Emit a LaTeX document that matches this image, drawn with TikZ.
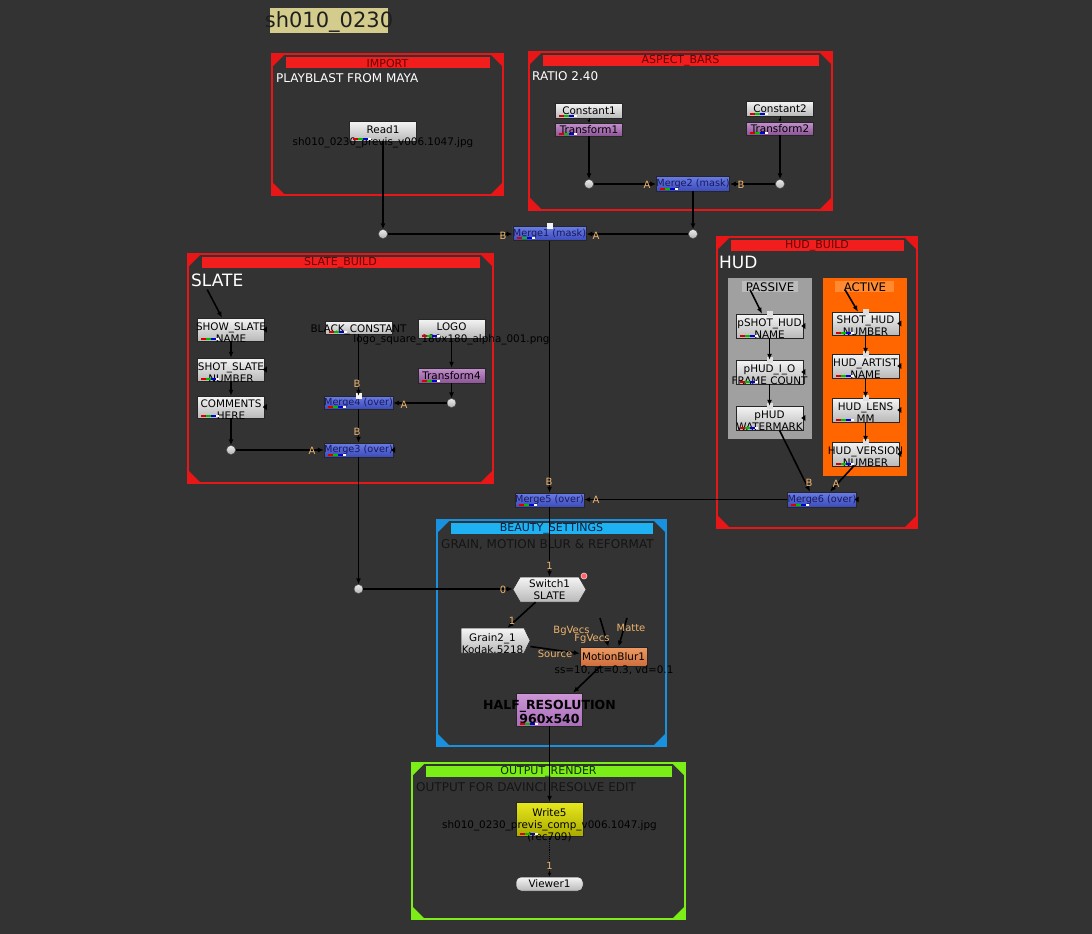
\documentclass[tikz,border=0pt]{standalone}
\usepackage{fontspec}
\setmainfont{DejaVu Sans}
\usetikzlibrary{arrows.meta,shapes.symbols,calc}
\definecolor{bgc}{RGB}{51,51,51}
\definecolor{bdred}{RGB}{232,22,22}
\definecolor{barred}{RGB}{242,30,30}
\definecolor{txred}{RGB}{105,0,0}
\definecolor{bdblue}{RGB}{25,145,225}
\definecolor{barblue}{RGB}{30,178,242}
\definecolor{txblue}{RGB}{10,30,60}
\definecolor{bdgreen}{RGB}{122,238,22}
\definecolor{txgreen}{RGB}{20,45,0}
\definecolor{sticky}{RGB}{212,204,140}
\definecolor{passive}{RGB}{160,160,160}
\definecolor{passivelab}{RGB}{188,188,188}
\definecolor{active}{RGB}{255,102,0}
\definecolor{activelab}{RGB}{255,138,50}
\definecolor{mergetop}{RGB}{105,125,230}
\definecolor{mergebot}{RGB}{60,75,185}
\definecolor{mergetx}{RGB}{25,25,90}
\definecolor{trtop}{RGB}{195,145,205}
\definecolor{trbot}{RGB}{140,85,150}
\definecolor{inlab}{RGB}{238,180,110}
\definecolor{mbtop}{RGB}{238,155,100}
\definecolor{mbbot}{RGB}{205,110,60}
\definecolor{wrtop}{RGB}{232,232,30}
\definecolor{wrbot}{RGB}{170,170,0}
\definecolor{hrtop}{RGB}{205,150,215}
\definecolor{hrbot}{RGB}{170,110,185}
\newcommand\nodef{\fontsize{10.4}{12}\selectfont}
\newcommand\mergef{\fontsize{9.7}{11}\selectfont}
\newcommand\inlf{\fontsize{10}{11}\selectfont}
\newcommand\btf{\fontsize{11}{12}\selectfont}
\newcommand\pasf{\fontsize{11.8}{12}\selectfont}
\newcommand\bdlf{\fontsize{12}{13}\selectfont}
\newcommand\bigf{\fontsize{17}{18}\selectfont}
\newcommand\stf{\fontsize{21}{22}\selectfont}
\newcommand\hrf{\fontsize{12.5}{14}\selectfont\bfseries}
% backdrop: x0 y0 x1 y1 border bar title name titlecolor
\newcommand\bdrop[9]{%
 \draw[#5, line width=2.5pt] (#1,#2) rectangle (#3,#4);
 \fill[#5] (#1,#2) -- ({#1+13},#2) -- (#1,{#2+13}) -- cycle;
 \fill[#5] (#3,#2) -- ({#3-13},#2) -- (#3,{#2+13}) -- cycle;
 \fill[#5] (#1,#4) -- ({#1+13},#4) -- (#1,{#4-13}) -- cycle;
 \fill[#5] (#3,#4) -- ({#3-13},#4) -- (#3,{#4-13}) -- cycle;
 \fill[#6] ({#1+14},{#2+3}) rectangle ({#3-13},{#2+14});
 \node[font=\btf, text=#9, inner sep=0pt] (#8) at ({(#1+#3)/2},{#2+9}) {#7};
}
\newcommand\chmark[1]{%
 \draw[line width=2pt, red!85!black] ($(#1.south west)+(4,-2.5)$) -- ++(5,0);
 \draw[line width=2pt, green!75!black] ($(#1.south west)+(9,-2.5)$) -- ++(5,0);
 \draw[line width=2pt, blue!85!black] ($(#1.south west)+(14,-2.5)$) -- ++(5,0);
 \draw[line width=2pt, white] ($(#1.south west)+(19,-2.5)$) -- ++(3,0);
}
\newcommand\trimark[1]{%
 \fill[black] ($(#1.east)+(2,-3)$) -- ($(#1.east)+(-2,0)$) -- ($(#1.east)+(2,3)$) -- cycle;
}
\newcommand\topsq[2]{%
 \fill[#2] ($(#1.north)+(-3,3)$) rectangle ($(#1.north)+(3,-3)$);
}
\begin{document}
\begin{tikzpicture}[x=1pt,y=-1pt,
 wire/.style={line width=1.6pt, draw=black, -{Latex[length=6pt,width=5pt]}},
 swire/.style={line width=1pt, draw=black, -{Latex[length=3pt,width=3.5pt]}},
 gn/.style={draw=black!85, line width=0.5pt, top color=gray!8, bottom color=gray!55,
   minimum width=67pt, minimum height=15pt, inner sep=0pt, font=\nodef, text=black, align=center},
 mg/.style={gn, top color=mergetop, bottom color=mergebot, text=mergetx, font=\mergef},
 tr/.style={gn, top color=trtop, bottom color=trbot},
 dotn/.style={circle, draw=black!70, line width=0.4pt, inner sep=0pt, minimum size=9pt,
   top color=gray!15, bottom color=gray!60},
 bt/.style={font=\nodef, inner sep=0pt, align=center, text=black},
 tl/.style 2 args={label={[bt, yshift=#1pt]center:{#2}}},
 inl/.style={font=\inlf, text=inlab, inner sep=0pt},
 bdl/.style={font=\bdlf, text=white, anchor=west, inner sep=0pt},
 sublab/.style={font=\pasf, inner sep=0pt, text=black}]
\useasboundingbox (0,0) rectangle (1092,934);
\fill[bgc] (0,0) rectangle (1092,934);

% sticky note
\fill[sticky] (270,8) rectangle (388,33);
\node[font=\stf, inner sep=0pt, text=black!88] (title) at (329,22) {sh010\_0230};

% backdrops
\bdrop{272}{54}{503}{195}{bdred}{barred}{IMPORT}{tImp}{txred}
\bdrop{529}{52}{832}{210}{bdred}{barred}{ASPECT\_BARS}{tAsp}{txred}
\bdrop{188}{254}{493}{483}{bdred}{barred}{SLATE\_BUILD}{tSl}{txred}
\bdrop{717}{237}{917}{528}{bdred}{barred}{HUD\_BUILD}{tHud}{txred}
\bdrop{437}{520}{666}{746}{bdblue}{barblue}{BEAUTY\_SETTINGS}{tBeau}{txblue}
\bdrop{412}{763}{685}{919}{bdgreen}{bdgreen}{OUTPUT\_RENDER}{tOut}{txgreen}

\node[bdl] (lImp) at (276,78) {PLAYBLAST FROM MAYA};
\node[bdl] (lAsp) at (532,76) {RATIO 2.40};
\node[bdl, font=\bigf] (lSl) at (191,280) {SLATE};
\node[bdl, font=\bigf] (lHud) at (719,262) {HUD};
\node[bdl, text=black!92] (lBeau) at (441,545) {GRAIN, MOTION BLUR \& REFORMAT};
\node[bdl, text=black!92] (lOut) at (416,787) {OUTPUT FOR DAVINCI RESOLVE EDIT};

% passive / active
\fill[passive] (728,278) rectangle (812,439);
\fill[passivelab] (742,281) rectangle (798,292);
\node[sublab] (lPas) at (770,287) {PASSIVE};
\fill[active] (823,278) rectangle (907,476);
\fill[activelab] (835,281) rectangle (894,292);
\node[sublab] (lAct) at (865,287) {ACTIVE};

% IMPORT / ASPECT
\node[gn, minimum height=20pt, tl={-5.5}{Read1\\sh010\_0230\_previs\_v006.1047.jpg}] (read1) at (383,131) {};
\node[gn] (const1) at (589,110.5) {Constant1};
\node[tr, minimum height=13pt] (tr1) at (589,129.5) {Transform1};
\node[gn] (const2) at (780,108.5) {Constant2};
\node[tr, minimum height=13pt] (tr2) at (780,128.5) {Transform2};
\node[dotn] (d1) at (589,184) {};
\node[dotn] (d2) at (780,184) {};
\node[mg] (merge2) at (693,183.5) {Merge2 (mask)};
\node[dotn] (d3) at (383,234) {};
\node[dotn] (d4) at (693,234) {};
\node[mg, minimum height=14pt] (merge1) at (549.5,233.5) {Merge1 (mask)};

% SLATE
\node[gn, minimum height=23pt, tl={-3.5}{SHOW\_SLATE\\NAME}] (showsl) at (231,329.5) {};
\node[gn, minimum height=23pt, tl={-3.5}{SHOT\_SLATE\\NUMBER}] (shotsl) at (231,369.5) {};
\node[gn, minimum height=22pt, tl={-3}{COMMENTS\\HERE}] (comm) at (231,407) {};
\node[dotn] (d5) at (231,450) {};
\node[gn, minimum height=13pt, tl={-2.5}{BLACK\_CONSTANT}] (blk) at (358.5,327.5) {};
\node[gn, minimum height=19pt, tl={-5.5}{LOGO\\logo\_square\_180x180\_alpha\_001.png}] (logo) at (451.5,328.5) {};
\node[tr] (tr4) at (451.5,375.5) {Transform4};
\node[dotn] (d6) at (451.5,403) {};
\node[mg, minimum height=13pt] (merge4) at (358.5,402.5) {Merge4 (over)};
\node[mg, minimum height=14pt] (merge3) at (358.5,450) {Merge3 (over)};
\node[dotn] (d7) at (358.5,589) {};

% HUD
\node[gn, minimum height=24pt, tl={-2.5}{pSHOT\_HUD\\NAME}] (psh) at (769.5,326) {};
\node[gn, minimum height=24pt, tl={-2.5}{pHUD\_I\_O\\FRAME COUNT}] (pio) at (769.5,372) {};
\node[gn, minimum height=24pt, tl={-2.5}{pHUD\\WATERMARK}] (pwm) at (769.5,418) {};
\node[gn, minimum height=23pt, tl={-2.5}{SHOT\_HUD\\NUMBER}] (shud) at (865.5,323.5) {};
\node[gn, minimum height=24pt, tl={-2.5}{HUD\_ARTIST\\NAME}] (hart) at (865.5,366) {};
\node[gn, minimum height=24pt, tl={-2.5}{HUD\_LENS\\MM}] (hlens) at (865.5,410) {};
\node[gn, minimum height=24pt, tl={-2.5}{HUD\_VERSION\\NUMBER}] (hver) at (865.5,454) {};
\node[mg] (merge6) at (822,499.5) {Merge6 (over)};
\node[mg, minimum height=14pt] (merge5) at (549.5,500) {Merge5 (over)};

% BEAUTY
\node[gn, shape=signal, signal to=west and east, signal pointer angle=120,
  minimum width=73pt, minimum height=25pt, tl={-0.5}{Switch1\\SLATE}] (switch1) at (549.5,589.5) {};
\node[gn, shape=signal, signal to=east, signal pointer angle=128,
  minimum width=69pt, minimum height=25pt, tl={-3}{Grain2\_1\\Kodak.5218}] (grain) at (492.5,640.5) {};
\node[gn, top color=mbtop, bottom color=mbbot, minimum height=19pt] (mb) at (613.5,656.5) {MotionBlur1};
\node[bt] (mbsub) at (614,670) {ss=10, st=0.3, vd=0.1};
\node[gn, top color=hrtop, bottom color=hrbot, minimum width=66pt, minimum height=33pt] (half) at (549.5,709.5) {};
\node[bt, font=\hrf] (halft) at (549.5,712) {HALF\_RESOLUTION\\960x540};

% OUTPUT
\node[gn, top color=wrtop, bottom color=wrbot, minimum height=34pt] (write5) at (549.5,819) {};
\node[bt] (write5t) at (549.5,825) {Write5\\sh010\_0230\_previs\_comp\_v006.1047.jpg\\(rec709)};
\node[gn, rounded corners=5pt, minimum height=14pt] (viewer1) at (549.5,884) {Viewer1};

\coordinate (cBg) at (600,618);
\coordinate (cMt) at (627,618);

% channel markers & small marks
\foreach \n in {read1,const1,tr1,const2,tr2,merge2,merge1,showsl,shotsl,comm,blk,logo,tr4,merge4,merge3,psh,pio,pwm,shud,hart,hlens,hver,merge6,merge5,half,write5}{\chmark{\n}}
\foreach \n in {showsl,shotsl,comm,psh,pio,pwm,shud,hart,hlens,hver,merge3,merge6}{\trimark{\n}}
\topsq{merge1}{white!90!gray}
\topsq{merge4}{white!90!gray}
\foreach \n in {psh,pio,pwm,shud,hart,hlens,hver}{\topsq{\n}{gray!25}}
\fill[red!60!white, draw=white!80!red, line width=0.6pt] (584,576) circle (3pt);

% wires
\draw[swire] (const1) -- (tr1);
\draw[swire] (const2) -- (tr2);
\draw[wire] (tr1) -- (d1);
\draw[wire] (d1) -- (d1 -| merge2.west);
\draw[wire] (tr2) -- (d2);
\draw[wire] (d2) -- (d2 -| merge2.east);
\draw[wire] (merge2) -- (d4);
\draw[wire] (read1) -- (d3);
\draw[wire] (d3) -- (d3 -| merge1.west);
\draw[wire] (d4) -- (d4 -| merge1.east);
\draw[wire] (merge1) -- (merge5);

\draw[wire] ([xshift=-10pt,yshift=-3pt]lSl.south) -- ([xshift=-9pt]showsl.north);
\draw[wire] (showsl) -- (shotsl);
\draw[wire] (shotsl) -- (comm);
\draw[wire] (comm) -- (d5);
\draw[wire] (d5) -- (d5 -| merge3.west);
\draw[wire] (blk) -- (merge4);
\draw[wire] (merge4) -- (merge3);
\draw[wire] (logo) -- (tr4);
\draw[wire] (tr4) -- (d6);
\draw[wire] (d6) -- (d6 -| merge4.east);
\draw[wire] (merge3) -- (d7);

\draw[wire] ([xshift=-20pt,yshift=2pt]lPas.south) -- ([xshift=-7.5pt]psh.north);
\draw[wire] ([xshift=-20pt,yshift=2pt]lAct.south) -- ([xshift=-7.5pt]shud.north);
\draw[wire] (psh) -- (pio);
\draw[wire] (pio) -- (pwm);
\draw[wire] (shud) -- (hart);
\draw[wire] (hart) -- (hlens);
\draw[wire] (hlens) -- (hver);
\draw[wire] ([xshift=10pt]pwm.south) -- ([xshift=-12pt]merge6.north);
\draw[wire] ([xshift=-12pt]hver.south) -- ([xshift=8pt]merge6.north);
\draw[wire] (merge6.west) -- (merge6.west -| merge5.east);

\draw[wire] (merge5) -- (switch1);
\draw[wire] (d7) -- (d7 -| switch1.west);
\draw[wire] ([xshift=-14pt]switch1.south) -- ([xshift=15pt]grain.north);
\draw[wire] ([yshift=-6pt]grain.east) -- ([yshift=3pt]mb.west);
\draw[wire] (cBg) -- ([xshift=-5pt]mb.north);
\draw[wire] (cMt) -- ([xshift=5pt]mb.north);
\draw[wire] ([xshift=-13pt]mb.south) -- ([xshift=23.5pt]half.north);
\draw[wire] (half) -- (write5);
\draw[line width=1.2pt, densely dotted, -{Latex[length=4pt,width=4pt]}] (write5) -- (viewer1);

% input labels
\node[inl] (iB1) at (503,236) {B};
\node[inl] (iA1) at (596,236) {A};
\node[inl] (iA2) at (647,185) {A};
\node[inl] (iB2) at (741,185) {B};
\node[inl] (iB4) at (357,384) {B};
\node[inl] (iA4) at (404,405) {A};
\node[inl] (iB3) at (357,432) {B};
\node[inl] (iA3) at (312,451) {A};
\node[inl] (iB6) at (809,483) {B};
\node[inl] (iA6) at (836,484) {A};
\node[inl] (iB5) at (549,482) {B};
\node[inl] (iA5) at (596,500) {A};
\node[inl] (i1s) at (549.5,566) {1};
\node[inl] (i0s) at (503,590) {0};
\node[inl] (i1g) at (512,621) {1};
\node[inl] (iBg) at (571.5,631) {BgVecs};
\node[inl] (iFg) at (592,639) {FgVecs};
\node[inl] (iMt) at (631,628) {Matte};
\node[inl] (iSrc) at (555,654) {Source};
\node[inl] (i1v) at (549.5,866) {1};
\end{tikzpicture}
\end{document}
